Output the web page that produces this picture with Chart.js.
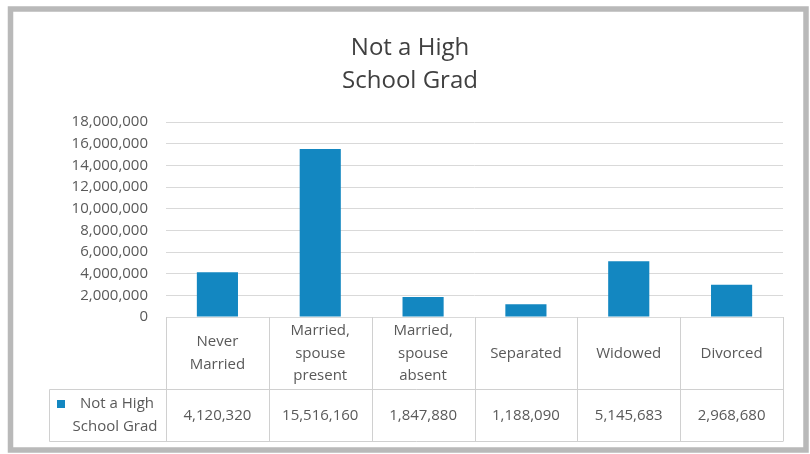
<!DOCTYPE html>
<html>
<head>
<meta charset="utf-8">
<script src="https://cdn.jsdelivr.net/npm/chart.js@4.4.0/dist/chart.umd.min.js"></script>
<style>
html, body { margin: 0; padding: 0; background: #fff; }
#wrap { width: 810px; height: 454px; }
</style>
</head>
<body>
<div id="wrap"><canvas id="gradChart" width="810" height="454"></canvas></div>
<script>
// chart data
var categories = [['Never', 'Married'], ['Married,', 'spouse', 'present'], ['Married,', 'spouse', 'absent'], ['Separated'], ['Widowed'], ['Divorced']];
var seriesName = ['Not a High', 'School Grad'];
var values = [4120320, 15516160, 1847880, 1188090, 5145683, 2968680];
var titleLines = ['Not a High', 'School Grad'];
var yMax = 18000000;
var yStep = 2000000;

var barColor = '#1387c1';
var lineColor = '#d0d0d0';
var textColor = '#595959';
var fontName = '"Open Sans", sans-serif';

function fmt(v) {
    return Number(v).toLocaleString('en-US');
}

// grey frame round the whole chart
var framePlugin = {
    id: 'frame',
    beforeDraw: function (chart) {
        var c = chart.ctx;
        c.save();
        c.fillStyle = '#ffffff';
        c.fillRect(0, 0, chart.width, chart.height);
        c.strokeStyle = '#b9b9b9';
        c.lineWidth = 5.5;
        c.strokeRect(10.5, 9, 795.5, 441);
        c.restore();
    }
};

// title and data table under the bars
var tablePlugin = {
    id: 'dataTable',
    afterDraw: function (chart) {
        var c = chart.ctx;
        var area = chart.chartArea;
        var xs = chart.scales.x;
        var n = categories.length;
        var colW = (area.right - area.left) / n;
        var top = area.bottom;
        var mid = 389.5;
        var bot = 441.5;
        var legLeft = 49.5;

        c.save();
        // title
        c.fillStyle = '#404040';
        c.font = '24px ' + fontName;
        c.textAlign = 'center';
        c.textBaseline = 'middle';
        titleLines.forEach(function (t, i) {
            c.fillText(t, 410, 48 + i * 33);
        });

        // table lines
        c.strokeStyle = lineColor;
        c.lineWidth = 1;
        c.beginPath();
        for (var i = 0; i <= n; i++) {
            var x = Math.round(area.left + i * colW) + 0.5;
            c.moveTo(x, top);
            c.lineTo(x, bot);
        }
        c.moveTo(legLeft, mid);
        c.lineTo(area.right, mid);
        c.moveTo(legLeft, bot);
        c.lineTo(area.right, bot);
        c.moveTo(legLeft, mid);
        c.lineTo(legLeft, bot);
        c.stroke();

        // category labels and values
        c.fillStyle = textColor;
        c.font = '15px ' + fontName;
        var lh = 22.5;
        var hy = (top + mid) / 2;
        categories.forEach(function (lines, i) {
            var cx = xs.getPixelForValue(i);
            var y0 = hy - (lines.length - 1) * lh / 2;
            lines.forEach(function (l, j) {
                c.fillText(l, cx, y0 + j * lh);
            });
            c.fillText(fmt(values[i]), cx, (mid + bot) / 2);
        });

        // legend cell
        c.fillStyle = barColor;
        c.fillRect(57, 400, 8, 8);
        c.fillStyle = textColor;
        c.fillText(seriesName[0], 117, 404);
        c.fillText(seriesName[1], 115, 427);
        c.restore();
    }
};

var ctx = document.getElementById('gradChart').getContext('2d');

var gradChart = new Chart(ctx, {
    type: 'bar',
    data: {
        labels: categories,
        datasets: [{
            label: seriesName.join(' '),
            data: values,
            backgroundColor: barColor,
            barPercentage: 0.4,
            categoryPercentage: 1
        }]
    },
    options: {
        responsive: false,
        animation: false,
        layout: {
            padding: { top: 122, bottom: 137, left: 0, right: 27 }
        },
        plugins: {
            legend: { display: false },
            title: { display: false },
            tooltip: { enabled: false }
        },
        scales: {
            x: {
                display: false
            },
            y: {
                min: 0,
                max: yMax,
                afterFit: function (scale) {
                    scale.width = 166;
                },
                border: { display: false },
                grid: {
                    color: '#d9d9d9',
                    drawTicks: false
                },
                ticks: {
                    stepSize: yStep,
                    padding: 18,
                    color: textColor,
                    font: { family: fontName, size: 15 },
                    callback: function (v) { return fmt(v); }
                }
            }
        }
    },
    plugins: [framePlugin, tablePlugin]
});
</script>
</body>
</html>
